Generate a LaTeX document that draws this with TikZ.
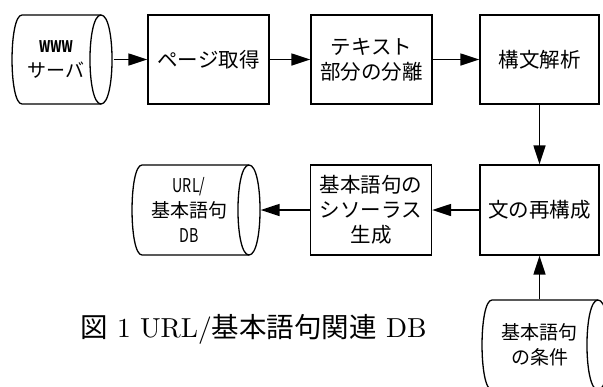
\documentclass[tikz,border=0pt]{standalone}
\usepackage{fontspec}
\newfontfamily\jp{Noto Sans CJK JP}
\newfontfamily\jpn[FakeStretch=0.75]{Noto Sans CJK JP}
\newfontfamily\capfont{lmroman10-regular}[Extension=.otf]
\usetikzlibrary{arrows.meta}
\begin{document}
\begin{tikzpicture}[x=1pt,y=-1pt,
  line width=1.3pt,
  box/.style={draw, minimum width=121pt, minimum height=89pt, align=center,
    inner sep=0pt, font=\jp\fontsize{20.5}{25}\selectfont},
  cylarea/.style={minimum height=89pt, inner sep=0pt},
  cyltext/.style={align=center, inner sep=0pt, font=\jp\fontsize{19}{25}\selectfont},
  flow/.style={-{Triangle[length=19pt,width=12pt]}, line width=1.5pt},
  cyl/.style={line width=1.3pt}]
\useasboundingbox (0,0) rectangle (603,386);
% cylinders outlines
\draw[cyl] (22,15) -- (101,15) .. controls (115.7,15) and (115.7,104) .. (101,104)
  -- (22,104) .. controls (8.7,104) and (8.7,15) .. (22,15) -- cycle;
\draw[cyl] (101,15) .. controls (86.3,15) and (86.3,104) .. (101,104);
\draw[cyl] (142,165) -- (249,165) .. controls (263.7,165) and (263.7,255) .. (249,255)
  -- (142,255) .. controls (128.7,255) and (128.7,165) .. (142,165) -- cycle;
\draw[cyl] (249,165) .. controls (234.3,165) and (234.3,255) .. (249,255);
\draw[cyl] (492,300) -- (598,300) .. controls (612.7,300) and (612.7,390) .. (598,390)
  -- (492,390) .. controls (478.7,390) and (478.7,300) .. (492,300) -- cycle;
\draw[cyl] (598,300) .. controls (583.3,300) and (583.3,390) .. (598,390);
% cylinder nodes
\node[cylarea, minimum width=101pt] (www) at (62.5,59.5) {};
\node[cyltext] (wwwt) at (56,59.5) {{\jpn\bfseries\fontsize{16}{18}\selectfont WWW}\\サーバ};
\node[cylarea, minimum width=128pt, minimum height=90pt] (url) at (196,210) {};
\node[cyltext] (urlt) at (189,210) {{\jpn URL/}\\基本語句\\{\jpn DB}};
\node[cyltext, minimum height=90pt] (cond) at (539.5,345) {基本語句\\の条件};
% boxes
\node[box] (get) at (208.5,59.5) {ページ取得};
\node[box] (sep) at (371.5,59.5) {テキスト\\部分の分離};
\node[box, minimum width=119pt] (parse) at (539.5,59.5) {構文解析};
\node[box, minimum width=119pt, minimum height=90pt] (recon) at (539.5,210) {文の再構成};
\node[box, minimum height=90pt] (thes) at (371,210) {基本語句の\\シソーラス\\生成};
% caption
\node[font=\capfont\fontsize{27.5}{30}\selectfont, inner sep=0pt] (cap) at (253.5,329)
  {{\jp 図} 1 URL/{\jp 基本語句関連} DB};
% connectors
\draw[flow] (www.east) -- (get.west);
\draw[flow] (get.east) -- (sep.west);
\draw[flow] (sep.east) -- (parse.west);
\draw[flow] (parse.south) -- (recon.north);
\draw[flow] (recon.west) -- (thes.east);
\draw[flow] (thes.west) -- (url.east);
\draw[flow] (cond.north) -- (recon.south);
\end{tikzpicture}
\end{document}
